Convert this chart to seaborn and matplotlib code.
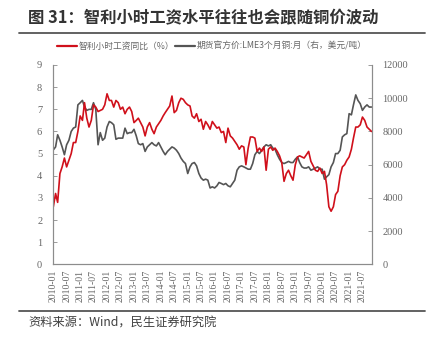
import numpy as np
import pandas as pd
import matplotlib
matplotlib.use("Agg")
import matplotlib.pyplot as plt
import matplotlib.dates as mdates
import seaborn as sns

sns.set_theme(style="white")
plt.rcParams['font.family'] = ['Liberation Serif', 'Noto Sans CJK SC', 'DejaVu Sans']
CJK = ['Noto Sans CJK SC', 'DejaVu Sans']

title = "图 31：智利小时工资水平往往也会跟随铜价波动"
source = "资料来源：Wind，民生证券研究院"
label_wage = "智利小时工资同比（%）"
label_cu = "期货官方价:LME3个月铜:月（右，美元/吨）"
start_month = "2010-01"

# Chile hourly wage YoY (%), monthly from 2010-01
wage = [2.6, 3.2, 2.8, 4.1, 4.4, 4.8, 4.4, 4.7, 5.0, 5.5,
        5.5, 6.0, 6.7, 6.5, 7.3, 6.6, 6.2, 6.5, 7.2, 7.1,
        6.9, 6.95, 7.0, 7.2, 7.7, 7.4, 7.4, 7.1, 7.4, 7.3,
        7.0, 7.1, 6.8, 7.0, 7.1, 6.9, 6.4, 6.5, 6.6, 6.4,
        6.2, 5.8, 6.2, 6.4, 6.1, 5.9, 6.2, 6.35, 6.5, 6.7,
        6.85, 7.0, 7.15, 7.6, 6.85, 6.95, 7.3, 7.5, 7.45, 7.3,
        7.2, 7.15, 6.7, 6.6, 6.8, 6.45, 6.55, 6.1, 6.45, 6.3,
        6.1, 6.45, 6.3, 6.15, 6.2, 5.95, 6.0, 5.5, 6.15, 5.8,
        5.7, 5.55, 5.4, 5.2, 5.35, 5.3, 4.5, 5.25, 5.75, 5.75,
        5.7, 5.1, 5.25, 5.1, 5.3, 4.25, 5.2, 5.3, 5.15, 5.25,
        5.1, 4.9, 4.6, 3.75, 4.1, 4.25, 4.0, 3.8, 4.5, 4.85,
        4.9, 4.85, 4.8, 4.95, 5.1, 4.65, 4.45, 4.25, 4.2, 4.35,
        4.1, 4.2, 3.6, 2.6, 2.4, 2.6, 3.15, 3.3, 4.0, 4.4,
        4.5, 4.7, 4.85, 5.2, 5.7, 6.2, 6.2, 6.3, 6.65, 6.5,
        6.2, 6.1, 6.0]

# LME 3-month copper (USD/t), monthly from 2010-01
copper = [6890, 7070, 7800, 7470, 7070, 6600, 7200, 7470, 8000, 8200,
          8270, 9600, 9730, 9870, 9470, 9270, 9330, 9330, 9730, 9330,
          7200, 7930, 7470, 7600, 8270, 8600, 8530, 8400, 7530, 7600,
          7600, 7600, 8200, 7870, 7930, 7930, 8130, 7730, 7270, 7200,
          7270, 6800, 7070, 7200, 7330, 7200, 7130, 7330, 7070, 6800,
          6600, 6800, 6930, 7070, 7000, 6870, 6670, 6400, 6200, 6070,
          5470, 5870, 6070, 6130, 5930, 5470, 5200, 5070, 5130, 5070,
          4600, 4670, 4600, 4730, 4930, 4870, 4800, 4870, 4730, 4670,
          4870, 5070, 5670, 5870, 5930, 5870, 5800, 5730, 5730, 6070,
          6600, 6800, 6670, 6870, 7070, 7200, 7130, 7200, 7000, 6930,
          6600, 6330, 6130, 6070, 6130, 6200, 6130, 6130, 6330, 6470,
          6130, 5870, 5800, 5800, 5870, 5670, 5730, 5800, 5870, 5730,
          5730, 5130, 5270, 5400, 5870, 6130, 6670, 6670, 6870, 7670,
          7800, 7870, 9070, 9000, 9600, 10200, 9870, 9670, 9270, 9470,
          9600, 9470, 9470]

left_ticks = [0, 1, 2, 3, 4, 5, 6, 7, 8, 9]
right_ticks = [0, 2000, 4000, 6000, 8000, 10000, 12000]

df_w = pd.DataFrame({"date": pd.date_range(start_month, periods=len(wage), freq="MS"), "v": wage})
df_c = pd.DataFrame({"date": pd.date_range(start_month, periods=len(copper), freq="MS"), "v": copper})

RED = "#D0101B"
GREY = "#555555"
AX = "#8C8C8C"
TXT = "#666666"

fig = plt.figure(figsize=(4.34, 3.37), dpi=100)
ax = fig.add_axes([53.3 / 434, 1 - 264.4 / 337, (371.5 - 53.3) / 434, (264.4 - 65) / 337])
ax2 = ax.twinx()

sns.lineplot(data=df_w, x="date", y="v", ax=ax, color=RED, linewidth=1.2)
sns.lineplot(data=df_c, x="date", y="v", ax=ax2, color=GREY, linewidth=1.2)
ax.set_zorder(ax2.get_zorder() + 1)
ax.patch.set_visible(False)

ax.set_ylim(0, 9)
ax2.set_ylim(0, 12000)
ax.set_xlim(df_w["date"].iloc[0], df_w["date"].iloc[-1])
ax.set_yticks(left_ticks)
ax2.set_yticks(right_ticks)
ax.set_xlabel("")
ax.set_ylabel("")
ax2.set_ylabel("")

ax.xaxis.set_major_locator(mdates.MonthLocator(bymonth=[1, 7]))
ax.xaxis.set_major_formatter(mdates.DateFormatter("%Y-%m"))

for a in (ax, ax2):
    for s in a.spines.values():
        s.set_color(AX)
        s.set_linewidth(0.8)
    a.spines["top"].set_visible(False)
    a.tick_params(direction="in", length=3, width=0.6, color=AX, labelcolor=TXT, labelsize=7.5)
    a.grid(False)
ax.tick_params(axis="x", labelrotation=90, pad=4, labelsize=7)
ax.tick_params(axis="y", pad=8)
ax2.tick_params(axis="y", pad=8)

fig.canvas.draw()
for lab in ax.get_xticklabels() + ax.get_yticklabels() + ax2.get_yticklabels():
    lab.set_fontfamily(['Liberation Serif', 'DejaVu Serif'])

# title and rules
fig.text(28 / 434, 1 - 18 / 337, title, fontsize=11.8, fontweight="bold", color="#333333",
         va="center", ha="left", family=CJK)
fig.add_artist(plt.Line2D([19 / 434, 425 / 434], [1 - 32.5 / 337] * 2, color="#555555", linewidth=1.3))
fig.add_artist(plt.Line2D([19 / 434, 425 / 434], [1 - 310.5 / 337] * 2, color="#555555", linewidth=1.3))
fig.text(28 / 434, 1 - 323 / 337, source, fontsize=8.8, color="#404040", va="center", ha="left",
         family=CJK)

# legend
ly = 1 - 46 / 337
fig.add_artist(plt.Line2D([57 / 434, 77 / 434], [ly, ly], color=RED, linewidth=1.6))
fig.text(79 / 434, ly, label_wage, fontsize=6.3, color=TXT, va="center", ha="left", family=CJK)
fig.add_artist(plt.Line2D([175 / 434, 195 / 434], [ly, ly], color=GREY, linewidth=1.6))
fig.text(197 / 434, ly, label_cu, fontsize=6.3, color=TXT, va="center", ha="left",
         family=['Noto Sans CJK SC', 'Liberation Serif'])

fig.savefig("out.png", dpi=100)
